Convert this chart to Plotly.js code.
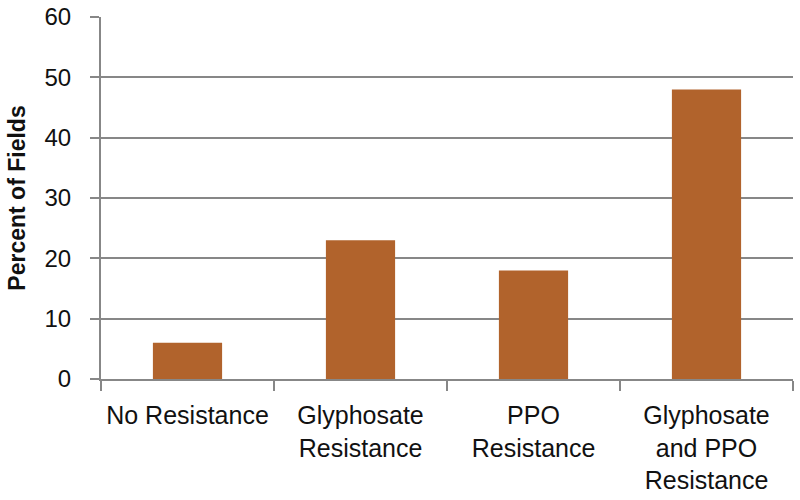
<!DOCTYPE html>
<html>
<head>
<meta charset="utf-8">
<script src="https://cdn.plot.ly/plotly-3.0.1.min.js"></script>
<style>
  html, body { margin: 0; padding: 0; background: #fff; }
  #chart { width: 800px; height: 500px; }
</style>
</head>
<body>
<div id="chart"></div>
<script>
// Share of fields by herbicide-resistance class.
const categories = [
  "No Resistance",
  "Glyphosate<br>Resistance",
  "PPO<br>Resistance",
  "Glyphosate<br>and PPO<br>Resistance",
];
const percentFields = [6, 23, 18, 48];
const yTicks = [0, 10, 20, 30, 40, 50, 60];

const BAR_COLOR = "#B1632C";
const GRID = "#878787";
const FONT = "Liberation Sans, Arial, sans-serif";
const TEXT = "#111";

const trace = {
  type: "bar",
  x: categories,
  y: percentFields,
  marker: { color: BAR_COLOR, line: { width: 0 } },
  hoverinfo: "x+y",
};

const layout = {
  width: 800,
  height: 500,
  margin: { l: 101, r: 7, t: 17, b: 121 },
  paper_bgcolor: "#fff",
  plot_bgcolor: "#fff",
  bargap: 0.6,
  showlegend: false,
  font: { family: FONT, size: 24, color: TEXT },
  xaxis: {
    type: "category",
    showline: true,
    linecolor: GRID,
    linewidth: 2,
    ticks: "outside",
    tickson: "boundaries",
    ticklen: 10,
    tickwidth: 2,
    tickcolor: GRID,
    showgrid: false,
    tickfont: { family: FONT, size: 25, color: TEXT },
    ticklabelstandoff: 13,
    fixedrange: true,
  },
  yaxis: {
    range: [0, 60],
    tickvals: yTicks,
    showline: true,
    linecolor: GRID,
    linewidth: 2,
    ticks: "outside",
    ticklen: 9,
    tickwidth: 2,
    tickcolor: GRID,
    showgrid: true,
    gridcolor: GRID,
    gridwidth: 2,
    zeroline: false,
    tickfont: { family: FONT, size: 24, color: TEXT },
    ticklabelstandoff: 14,
    title: {
      text: "<b>Percent of Fields</b>",
      font: { family: FONT, size: 23, color: TEXT },
      standoff: 12,
    },
    fixedrange: true,
  },
};

Plotly.newPlot("chart", [trace], layout, { displayModeBar: false, staticPlot: true });
</script>
</body>
</html>
